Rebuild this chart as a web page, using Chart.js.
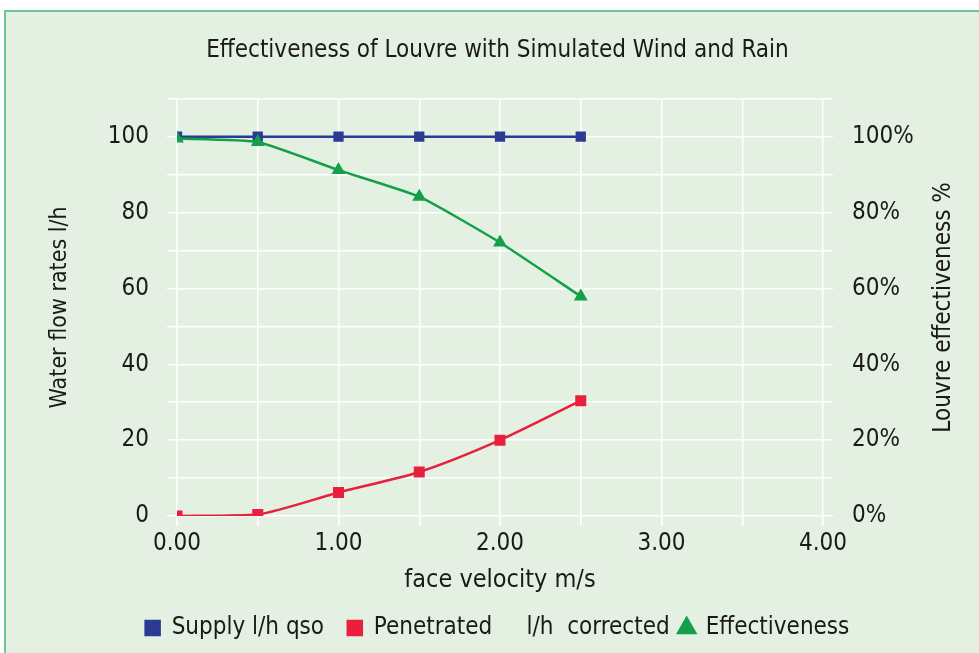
<!DOCTYPE html>
<html>
<head>
<meta charset="utf-8">
<script src="https://cdn.jsdelivr.net/npm/chart.js@4.4.1/dist/chart.umd.min.js"></script>
<style>
  html, body { margin: 0; padding: 0; background: #fff; }
  #frame {
    position: absolute; left: 4px; top: 10px; width: 975px; height: 643px;
    background: #e3f0e2; border-top: 2px solid #6fc593; border-left: 2px solid #6fc593;
    box-sizing: border-box;
  }
  #wrap { position: absolute; left: 0; top: 0; width: 979px; height: 653px; }
</style>
</head>
<body>
<div id="frame"></div>
<div id="wrap"><canvas id="louvreChart" width="979" height="653"></canvas></div>
<script>
// face velocity m/s
const velocity = [0, 0.5, 1.0, 1.5, 2.0, 2.5];
// water flow l/h
const supply = [100, 100, 100, 100, 100, 100];
const penetrated = [0, 0.4, 6.2, 11.6, 20.0, 30.4];
// louvre effectiveness %
const effectiveness = [99.5, 98.6, 91.2, 84.2, 72.1, 57.9];

const FONT = "'DejaVu Sans Condensed', 'DejaVu Sans', sans-serif";
const TXT = '#1b1b14';

const pts = ys => velocity.map((v, i) => ({x: v, y: ys[i]}));

// right axis title reads bottom-to-top in the original, chart.js turns it the other way
const rightTitle = {
  id: 'rightTitle',
  afterDraw(chart) {
    const c = chart.ctx, a = chart.chartArea;
    c.save();
    c.translate(944, (a.top + a.bottom) / 2);
    c.rotate(-Math.PI / 2);
    c.font = "24px " + FONT;
    c.fillStyle = TXT;
    c.textAlign = 'center';
    c.textBaseline = 'middle';
    c.fillText('Louvre effectiveness %', 0, 0);
    c.restore();
  }
};

const ctx = document.getElementById('louvreChart');
new Chart(ctx, {
  type: 'line',
  data: {
    datasets: [{
      label: 'Supply l/h qso  ',
      data: pts(supply),
      borderColor: '#2b3a92', backgroundColor: '#2b3a92',
      borderWidth: 2.5, pointStyle: 'rect', pointRadius: 5.5,
      yAxisID: 'y', order: 3
    }, {
      label: 'Penetrated     l/h  corrected',
      data: pts(penetrated),
      borderColor: '#e8203e', backgroundColor: '#e8203e',
      borderWidth: 2.5, pointStyle: 'rect', pointRadius: 6, tension: 0.25,
      yAxisID: 'y', order: 2
    }, {
      label: 'Effectiveness',
      data: pts(effectiveness),
      borderColor: '#14a04a', backgroundColor: '#14a04a',
      borderWidth: 2.5, pointStyle: 'triangle', pointRadius: 5.5, tension: 0.15,
      yAxisID: 'y2', order: 1
    }]
  },
  options: {
    responsive: false,
    animation: false,
    layout: {padding: {left: 30, right: 14, top: 10, bottom: 3}},
    plugins: {
      title: {
        display: true,
        text: 'Effectiveness of Louvre with Simulated Wind and Rain',
        color: TXT,
        font: {family: FONT, size: 24, weight: 'normal'},
        padding: {top: 26, bottom: 34}
      },
      legend: {
        position: 'bottom',
        labels: {
          usePointStyle: true, boxWidth: 14, boxHeight: 14, padding: 10,
          color: TXT, font: {family: FONT, size: 24},
          sort: (a, b) => a.datasetIndex - b.datasetIndex
        }
      },
      tooltip: {enabled: false}
    },
    scales: {
      x: {
        type: 'linear', min: 0, max: 4,
        afterFit: s => { s.height = 90; },
        ticks: {
          stepSize: 0.5, padding: 3, color: TXT, maxRotation: 0,
          font: {family: FONT, size: 24},
          callback: v => Number.isInteger(v) ? v.toFixed(2) : ''
        },
        grid: {color: '#ffffff', lineWidth: 1.5, tickLength: 10},
        border: {display: false},
        title: {display: true, text: 'face velocity m/s', color: TXT,
          font: {family: FONT, size: 25}, padding: {top: 0, bottom: 11}}
      },
      y: {
        position: 'left', min: 0, max: 110,
        afterFit: s => { s.width = 147; },
        ticks: {
          stepSize: 10, padding: 18, color: TXT,
          font: {family: FONT, size: 24},
          callback: v => v % 20 === 0 && v <= 100 ? String(v) : ''
        },
        grid: {color: '#ffffff', lineWidth: 1.5, tickLength: 10},
        border: {display: false},
        title: {display: true, text: 'Water flow rates l/h', color: TXT,
          font: {family: FONT, size: 23}, padding: {top: 16, bottom: 0}}
      },
      y2: {
        position: 'right', min: 0, max: 110,
        afterFit: s => { s.width = 142; },
        ticks: {
          stepSize: 10, padding: 19, color: TXT,
          font: {family: FONT, size: 24},
          callback: v => v % 20 === 0 && v <= 100 ? v + '%' : ''
        },
        grid: {color: '#ffffff', lineWidth: 1.5, tickLength: 10, drawOnChartArea: false},
        border: {display: false}
      }
    }
  },
  plugins: [rightTitle]
});
</script>
</body>
</html>
